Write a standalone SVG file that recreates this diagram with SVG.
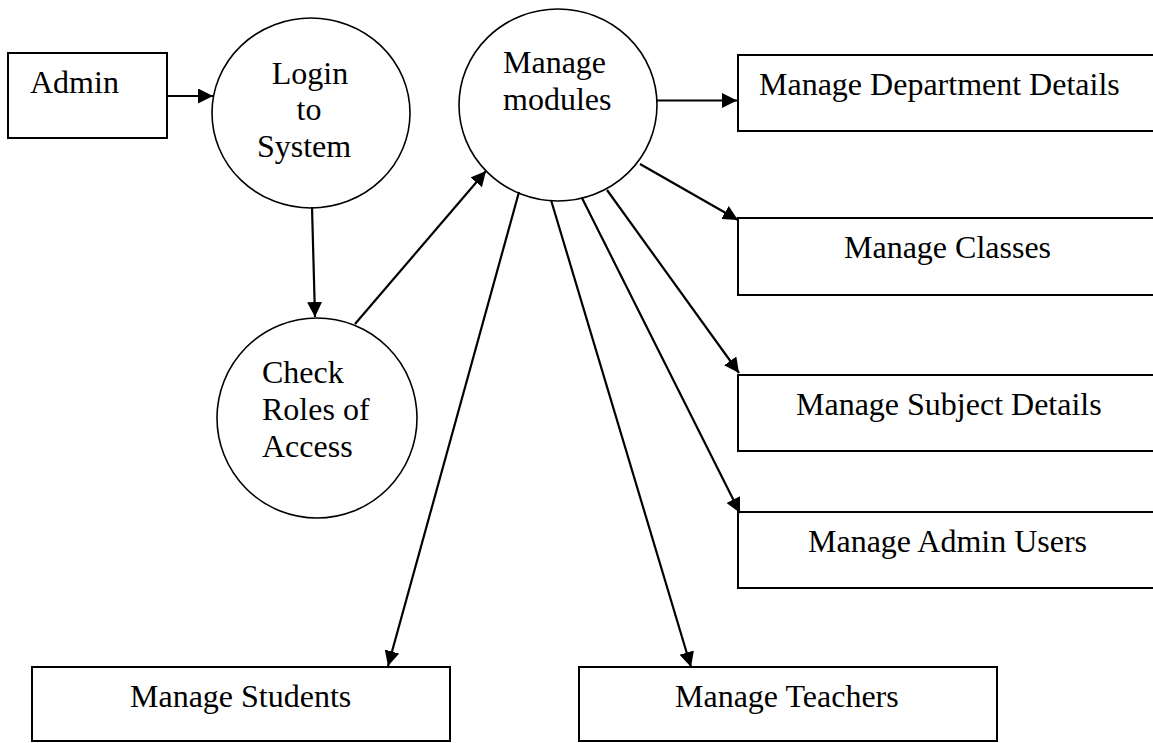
<svg xmlns="http://www.w3.org/2000/svg" width="1153" height="743" viewBox="0 0 1153 743">
<style>
.box{fill:#fff;stroke:#000;stroke-width:2}
.proc{fill:#fff;stroke:#000;stroke-width:1.6}
.lbl{font-family:"Liberation Serif","Times New Roman",serif;font-size:32px;fill:#000}
.mid{text-anchor:middle}
.conn{stroke:#000;stroke-width:2.2;fill:none;marker-end:url(#arr)}
</style>
<defs>
<marker id="arr" markerUnits="userSpaceOnUse" markerWidth="16" markerHeight="16" refX="15" refY="7.5" orient="auto">
<path d="M0,0 L15,7.5 L0,15 z" fill="#000"/>
</marker>
</defs>
<rect width="1153" height="743" fill="#fff"/>
<g id="admin">
<rect class="box" x="8" y="53" width="159" height="85"/>
<text class="lbl" x="30" y="93">Admin</text>
</g>
<g id="login">
<ellipse class="proc" cx="311" cy="113" rx="99" ry="95"/>
<text class="lbl mid" x="310" y="84">Login</text>
<text class="lbl mid" x="309" y="120">to</text>
<text class="lbl mid" x="304" y="157">System</text>
</g>
<g id="modules">
<ellipse class="proc" cx="558" cy="105" rx="99" ry="96"/>
<text class="lbl" x="503" y="73">Manage</text>
<text class="lbl" x="503" y="110">modules</text>
</g>
<g id="check">
<ellipse class="proc" cx="317" cy="418" rx="100" ry="100"/>
<text class="lbl" x="262" y="383">Check</text>
<text class="lbl" x="262" y="420">Roles of</text>
<text class="lbl" x="262" y="457">Access</text>
</g>
<g id="dept">
<rect class="box" x="738" y="55" width="430" height="76"/>
<text class="lbl" x="759" y="95">Manage Department Details</text>
</g>
<g id="classes">
<rect class="box" x="738" y="218" width="430" height="77"/>
<text class="lbl" x="844" y="258">Manage Classes</text>
</g>
<g id="subject">
<rect class="box" x="738" y="375" width="430" height="76"/>
<text class="lbl" x="796" y="415">Manage Subject Details</text>
</g>
<g id="adminusers">
<rect class="box" x="738" y="512" width="430" height="76"/>
<text class="lbl" x="808" y="552">Manage Admin Users</text>
</g>
<g id="students">
<rect class="box" x="32" y="667" width="418" height="74"/>
<text class="lbl" x="130" y="707">Manage Students</text>
</g>
<g id="teachers">
<rect class="box" x="579" y="667" width="418" height="74"/>
<text class="lbl" x="675" y="707">Manage Teachers</text>
</g>
<g id="connectors">
<path class="conn" d="M167,96 L213,96"/>
<path class="conn" d="M312,207 L315,317"/>
<path class="conn" d="M355,324 L486,171"/>
<path class="conn" d="M657,100.5 L737,100.5"/>
<path class="conn" d="M640,164 L738,220"/>
<path class="conn" d="M607,190 L739,373"/>
<path class="conn" d="M582,198 L740,513"/>
<path class="conn" d="M551,200 L691,667"/>
<path class="conn" d="M519,192 L388,666"/>
</g>
</svg>
